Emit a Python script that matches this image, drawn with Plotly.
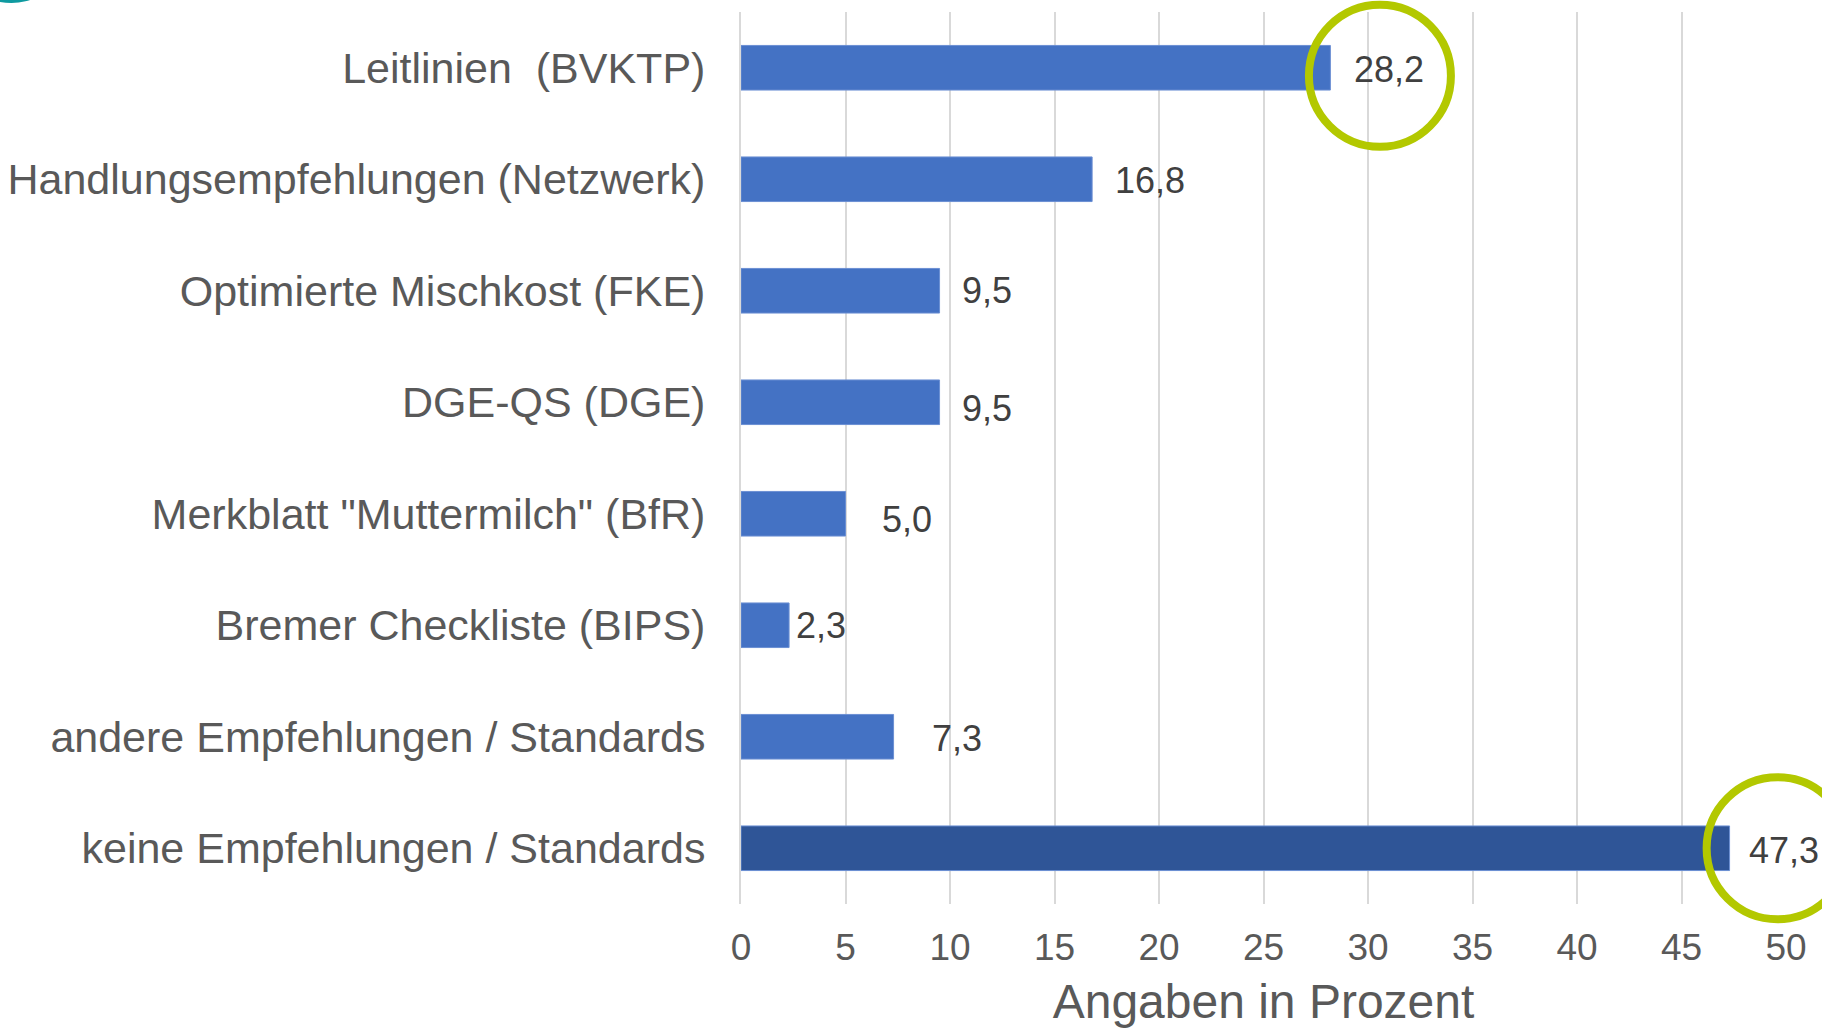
import plotly.graph_objects as go

# ---- data ----
categories = [
    "Leitlinien\u00a0 (BVKTP)",
    "Handlungsempfehlungen (Netzwerk)",
    "Optimierte Mischkost (FKE)",
    "DGE-QS (DGE)",
    "Merkblatt \"Muttermilch\" (BfR)",
    "Bremer Checkliste (BIPS)",
    "andere Empfehlungen / Standards",
    "keine Empfehlungen / Standards",
]
values = [28.2, 16.8, 9.5, 9.5, 5.0, 2.3, 7.3, 47.3]
value_labels = ["28,2", "16,8", "9,5", "9,5", "5,0", "2,3", "7,3", "47,3"]
x_ticks = [0, 5, 10, 15, 20, 25, 30, 35, 40, 45, 50]
x_title = "Angaben in Prozent"

# ---- style ----
bar_colors = ["#4472C4"] * 7 + ["#2F5597"]
label_xshift = [22, 21, 20, 20, 34, 5, 36, 17]
label_yshift = [-2, -1, 0, -6, -6, 0, -2, -2]
highlight_idx = [0, 7]
highlight_xcenter = [30.57, 49.6]   # circle centre in axis units
highlight_ydown = [8, 0]
circle_r = 71
XMAX = 50

W, H = 1822, 1028
ML, MR, MT, MB = 741, 36, 12, 124

fig = go.Figure()
fig.add_trace(go.Bar(
    y=categories, x=values, orientation="h",
    marker=dict(color=bar_colors, line=dict(color="#6B8FD3", width=1)),
    width=0.40, hoverinfo="skip",
))

for c, v, t, dx, dy in zip(categories, values, value_labels, label_xshift, label_yshift):
    fig.add_annotation(x=v, y=c, text=t, showarrow=False, xanchor="left",
                       xshift=dx, yshift=dy,
                       font=dict(family="Liberation Sans, Arial", size=36, color="#404040"))

n = len(categories)
for i, xc, dd in zip(highlight_idx, highlight_xcenter, highlight_ydown):
    fig.add_shape(type="circle", xref="paper", yref="paper",
                  xsizemode="pixel", ysizemode="pixel",
                  xanchor=xc / XMAX, yanchor=1 - (i + 0.5) / n,
                  x0=-circle_r, x1=circle_r, y0=-circle_r - dd, y1=circle_r - dd,
                  line=dict(color="#B3C800", width=8), layer="above")

# teal decoration in the top-left corner
fig.add_shape(type="circle", xref="paper", yref="paper",
              xsizemode="pixel", ysizemode="pixel", xanchor=0, yanchor=1,
              x0=-ML - 25, x1=-ML + 48, y0=MT - 3, y1=MT + 40,
              fillcolor="#0E9AA0", line=dict(width=0), layer="above")

fig.update_layout(
    width=W, height=H,
    margin=dict(l=ML, r=MR, t=MT, b=MB, autoexpand=False),
    plot_bgcolor="white", paper_bgcolor="white",
    showlegend=False, bargap=0.6,
    font=dict(family="Liberation Sans, Arial", color="#595959"),
)
fig.update_xaxes(
    range=[0, XMAX], tickvals=x_ticks, ticktext=[str(t) for t in x_ticks],
    showgrid=True, gridcolor="#D9D9D9", gridwidth=2, zeroline=False,
    tickfont=dict(size=37, color="#595959"), ticklabelstandoff=18,
    title=dict(text=x_title, font=dict(size=48, color="#595959"), standoff=20),
    automargin=False,
)
fig.update_yaxes(
    autorange="reversed", showgrid=False, zeroline=False,
    showline=True, linecolor="#D9D9D9", linewidth=2,
    tickfont=dict(size=43, color="#595959"), ticklabelstandoff=25,
    automargin=False,
)

fig.write_html("out.html", config={"displayModeBar": False},
               post_script="document.body.style.margin='0px';document.body.style.overflow='hidden';")
